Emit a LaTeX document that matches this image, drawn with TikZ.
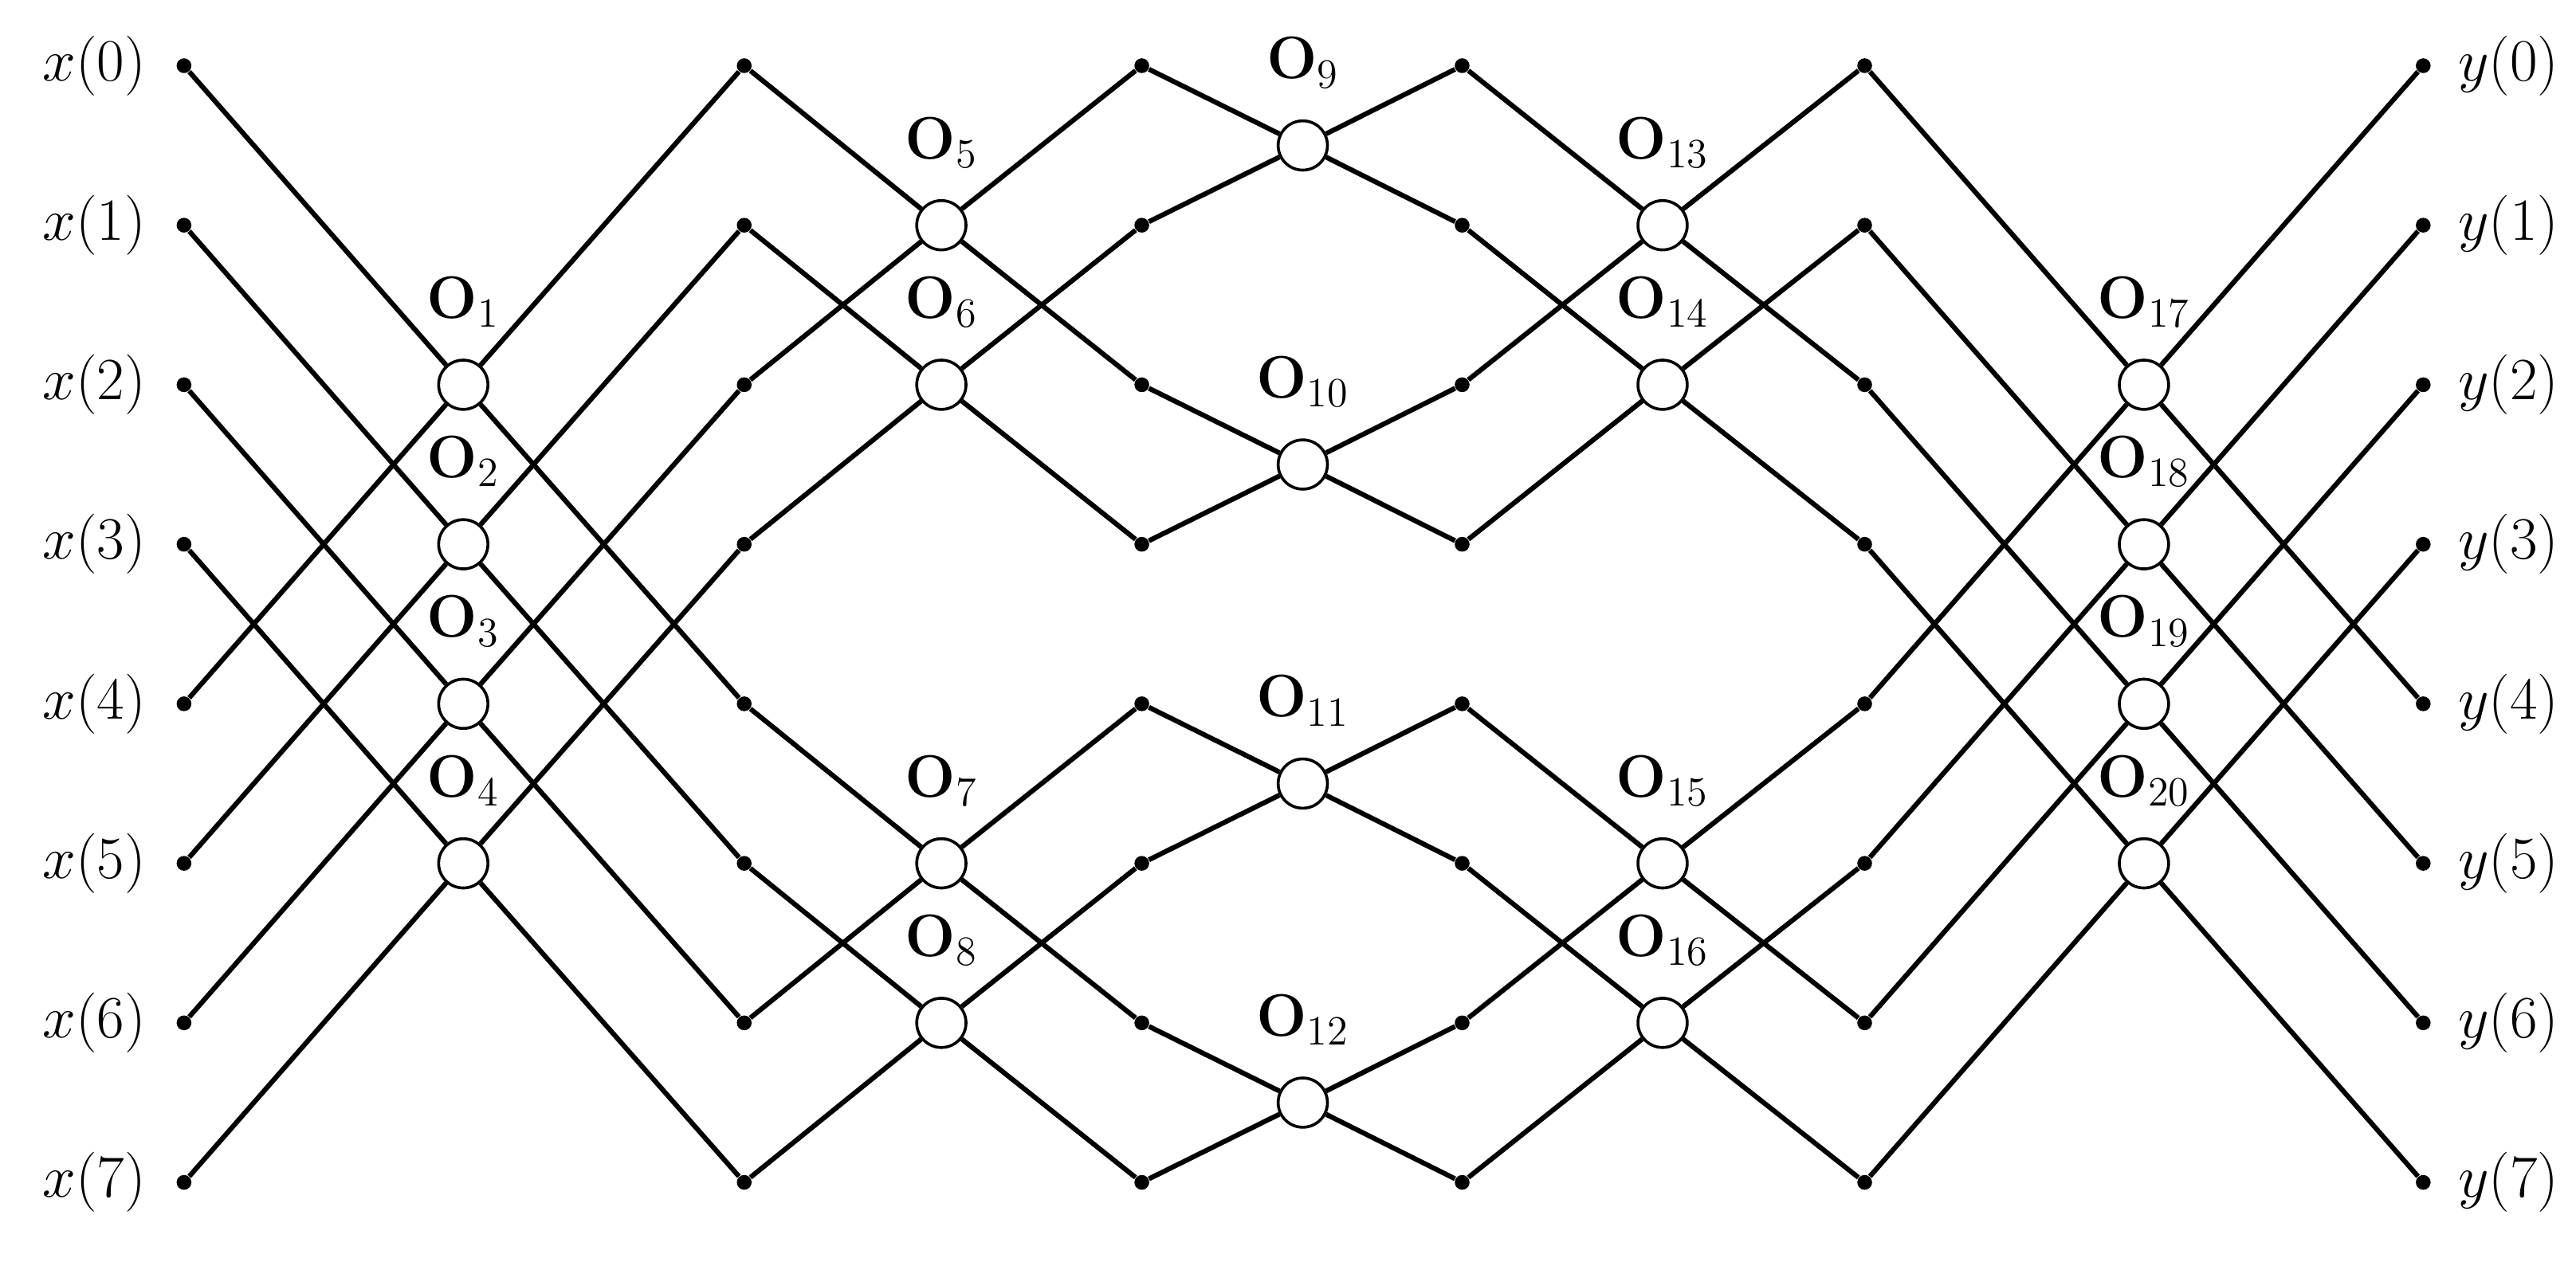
\documentclass[tikz,border=0pt]{standalone}
\begin{document}
\begin{tikzpicture}[x=0.02cm,y=-0.02cm,
  dotn/.style={circle,fill=black,inner sep=0pt,minimum size=9*0.02cm},
  opn/.style={circle,draw,fill=white,line width=1pt,inner sep=0pt,minimum size=30*0.02cm},
  wire/.style={line width=1.7pt},
  lbl/.style={font=\fontsize{20}{22}\selectfont}]
\useasboundingbox (0,0) rectangle (1568,768);
\foreach \c/\xx in {a/112,b/453,c/695,d/890,e/1135,f/1475}
  \foreach \r in {0,...,7}
    \node[dotn] (\c\r) at (\xx,{40+97.14*\r}) {};
\foreach \r in {0,...,7}{
  \node[lbl,anchor=east] (in\r) at (95,{40+97.14*\r}) {$x(\r)$};
  \node[lbl,anchor=west] (out\r) at (1490,{40+97.14*\r}) {$y(\r)$};
}
\foreach \k/\rr/\xx/\ca/\cb/\p/\q in {
  1/2/282/a/b/0/4, 2/3/282/a/b/1/5, 3/4/282/a/b/2/6, 4/5/282/a/b/3/7,
  5/1/573/b/c/0/2, 6/2/573/b/c/1/3, 7/5/573/b/c/4/6, 8/6/573/b/c/5/7,
  9/0.5/793/c/d/0/1, 10/2.5/793/c/d/2/3, 11/4.5/793/c/d/4/5, 12/6.5/793/c/d/6/7,
  13/1/1012/d/e/0/2, 14/2/1012/d/e/1/3, 15/5/1012/d/e/4/6, 16/6/1012/d/e/5/7,
  17/2/1305/e/f/0/4, 18/3/1305/e/f/1/5, 19/4/1305/e/f/2/6, 20/5/1305/e/f/3/7}{
  \node[opn,label={[lbl,label distance=0.26cm]above:$\mathbf{O}_{\k}$}] (O\k) at (\xx,{40+97.14*\rr}) {};
  \draw[wire] (\ca\p) -- (O\k) -- (\cb\q);
  \draw[wire] (\ca\q) -- (O\k) -- (\cb\p);
}
\end{tikzpicture}
\end{document}
